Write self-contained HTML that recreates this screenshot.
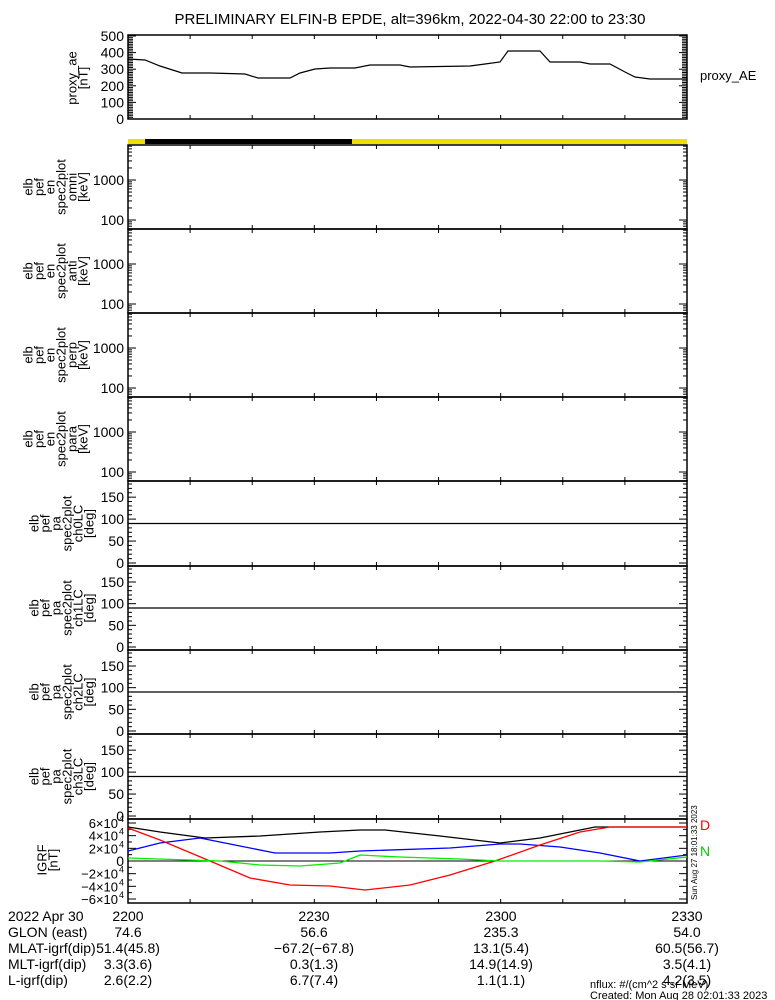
<!DOCTYPE html>
<html><head><meta charset="utf-8"><style>
html,body{margin:0;padding:0;background:#fff;}
svg{display:block;font-family:"Liberation Sans",sans-serif;}
</style></head><body>
<svg id="s" width="775" height="1000" xmlns="http://www.w3.org/2000/svg"></svg>
<script>
const s=document.getElementById('s');let h='';
const X0=128,X1=687;
h+='<text x="410" y="24" font-size="15" text-anchor="middle">PRELIMINARY ELFIN-B EPDE, alt=396km, 2022-04-30 22:00 to 23:30</text>';
function frame(t,b){
 h+=`<rect x="${X0}" y="${t}" width="${X1-X0}" height="${b-t}" fill="none" stroke="#000" stroke-width="1.5"/>`;
 for(let i=1;i<9;i++){const x=X0+i*(X1-X0)/9;h+=`<line x1="${x}" y1="${t}" x2="${x}" y2="${t+4}" stroke="#000"/><line x1="${x}" y1="${b}" x2="${x}" y2="${b-4}" stroke="#000"/>`;}
}
function yt(y,len){h+=`<line x1="${X0}" y1="${y}" x2="${X0+len}" y2="${y}" stroke="#000"/><line x1="${X1}" y1="${y}" x2="${X1-len}" y2="${y}" stroke="#000"/>`;}
function lab(x,y,t,fs){h+=`<text x="${x}" y="${y}" font-size="${fs||14}" text-anchor="end">${t}</text>`;}
function vlab(cx,cy,lines){
 const n=lines.length,sp=11;
 lines.forEach((l,i)=>{const x=cx-(n-1)*sp/2+i*sp;h+=`<text transform="translate(${x+4},${cy}) rotate(-90)" font-size="13" text-anchor="middle">${l}</text>`;});
}
frame(35,119);
const ay=v=>119-v*83/500;
for(let v=0;v<=500;v+=10)yt(ay(v),v%100==0?8:5);
[0,100,200,300,400,500].forEach(v=>lab(124,ay(v)+5,v));
const ae=[[128,59],[145,60],[160,66],[182,73],[210,73],[245,74],[258,78],[290,78],[300,73],[315,69],[330,68],[355,68],[370,65],[400,65],[410,67],[470,66],[485,64],[500,62],[508,51],[540,51],[550,62],[580,62],[590,64],[610,64],[625,72],[635,77],[650,79],[687,79]];
h+=`<polyline points="${ae.map(p=>p.join(',')).join(' ')}" fill="none" stroke="#000" stroke-width="1.2"/>`;
vlab(78,78,['proxy_ae','[nT]']);
h+='<text x="700" y="80" font-size="13">proxy_AE</text>';
h+=`<rect x="${X0}" y="139" width="${X1-X0}" height="5" fill="#f5dc00"/><rect x="145" y="139" width="207" height="5" fill="#000"/>`;
const eb=[145,229,313,397,481];
const enames=['omni','anti','perp','para'];
for(let k=0;k<4;k++){const t=eb[k],b=eb[k+1];frame(t,b);
 const ly=v=>t+35-40*(Math.log10(v)-3);
 for(let d=1;d<=4;d++)for(let m=1;m<10;m++){const v=m*Math.pow(10,d);const y=ly(v);if(y>t&&y<b)yt(y,m==1?8:4);}
 lab(124,ly(1000)+5,'1000');lab(124,ly(100)+5,'100');
 vlab(56,(t+b)/2,['elb','pef','en','spec2plot',enames[k],'[keV]']);
}
const pb=[481,566,650,734,819];
for(let k=0;k<4;k++){const t=pb[k],b=pb[k+1];frame(t,b);
 const py=v=>b-3-v*(b-t-6)/180;
 for(let v=0;v<=180;v+=10)yt(py(v),v%50==0?8:4);
 [0,50,100,150].forEach(v=>lab(124,py(v)+5,v));
 h+=`<line x1="${X0}" y1="${py(90)}" x2="${X1}" y2="${py(90)}" stroke="#000" stroke-width="1.2"/>`;
 vlab(62,(t+b)/2,['elb','pef','pa','spec2plot','ch'+k+'LC','[deg]']);
}
frame(819,903);
const gy=v=>861-v*38/60000;
for(let v=-60000;v<=60000;v+=10000)yt(gy(v),v%20000==0?8:4);
[6,4,2,-2,-4,-6].forEach(v=>{const y=gy(v*10000);h+=`<text x="118" y="${y+5}" font-size="13" text-anchor="end">${v<0?'−':''}${Math.abs(v)}×10</text><text x="119" y="${y-1}" font-size="9">4</text>`;});
lab(124,gy(0)+5,'0');
h+=`<line x1="${X0}" y1="861" x2="${X1}" y2="861" stroke="#000"/>`;
function pl(pts,c){h+=`<polyline points="${pts.map(p=>p.join(',')).join(' ')}" fill="none" stroke="${c}" stroke-width="1.3"/>`;}
pl([[128,827],[160,832],[205,838],[260,836],[320,832],[360,830],[385,830],[440,836],[500,843],[540,838],[595,827],[687,827]],'#000');
pl([[128,851],[160,843],[200,838],[240,846],[275,853],[330,853],[360,851],[450,848],[500,844],[520,844],[560,847],[600,853],[640,861],[687,855]],'#0000ff');
pl([[128,828],[160,840],[210,861],[250,878],[290,885],[330,886],[365,890],[410,885],[450,875],[495,861],[540,845],[580,832],[610,827],[687,827]],'#ff0000');
pl([[128,858],[220,861],[260,865],[300,866],[340,863],[360,855],[400,857],[460,859],[500,861],[600,861],[640,862],[687,857]],'#00ee00');
vlab(48,860,['IGRF','[nT]']);
h+='<text x="700" y="830" font-size="14" fill="#ff0000">D</text><text x="700" y="856" font-size="14" fill="#00cc00">N</text>';
h+='<text transform="translate(697,900) rotate(-90)" font-size="8">Sun Aug 27 18:01:33 2023</text>';
const rows=[['2022 Apr 30','2200','2230','2300','2330'],['GLON (east)','74.6','56.6','235.3','54.0'],['MLAT-igrf(dip)','51.4(45.8)','-67.2(-67.8)','13.1(5.4)','60.5(56.7)'],['MLT-igrf(dip)','3.3(3.6)','0.3(1.3)','14.9(14.9)','3.5(4.1)'],['L-igrf(dip)','2.6(2.2)','6.7(7.4)','1.1(1.1)','4.2(3.5)']];
const cx=[128,314,501,687];
rows.forEach((r,i)=>{const y=921+i*16;h+=`<text x="8" y="${y}" font-size="14">${r[0]}</text>`;for(let j=0;j<4;j++)h+=`<text x="${cx[j]}" y="${y}" font-size="14" text-anchor="middle">${r[j+1].replace(/-/g,'−')}</text>`;});
h+='<text x="590" y="988" font-size="11">nflux: #/(cm^2 s sr MeV)</text><text x="590" y="999" font-size="11">Created: Mon Aug 28 02:01:33 2023</text>';
s.innerHTML=h;
</script>
</body></html>
